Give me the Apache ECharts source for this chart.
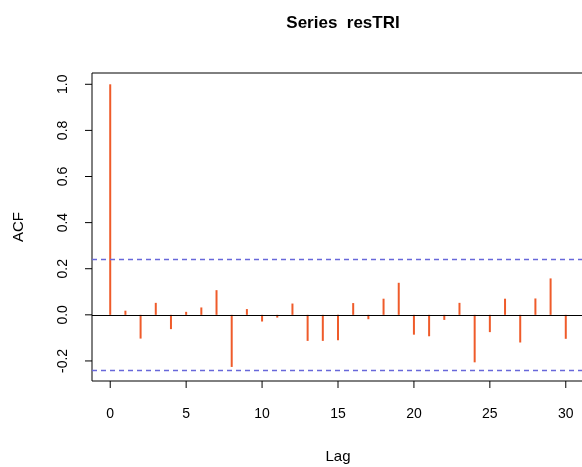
<!DOCTYPE html>
<html><head><meta charset="utf-8">
<script src="https://cdn.jsdelivr.net/npm/echarts@6/dist/echarts.min.js"></script>
<style>html,body{margin:0;padding:0;background:#fff}#c{width:582px;height:467px}</style>
</head><body><div id="c"></div>
<script>
const lags = [0,1,2,3,4,5,6,7,8,9,10,11,12,13,14,15,16,17,18,19,20,21,22,23,24,25,26,27,28,29,30];
const acfValues = [1.0,0.018,-0.103,0.052,-0.062,0.013,0.032,0.107,-0.226,0.025,-0.029,-0.012,0.049,-0.113,-0.113,-0.110,0.051,-0.019,0.070,0.139,-0.086,-0.093,-0.022,0.052,-0.206,-0.075,0.070,-0.120,0.071,0.158,-0.104];
const ciBound = 0.2377;
const xTicks = [0,5,10,15,20,25,30];
const yTicks = [-0.2,0.0,0.2,0.4,0.6,0.8,1.0];
const xMin = -1.2, xMax = 31.2, yMin = -0.287, yMax = 1.049;

const chart = echarts.init(document.getElementById('c'));
const font = 'Liberation Sans, Arial, sans-serif';

function tickItem(isX){
  return function(params, api){
    const v = api.value(0);
    if (isX){
      const p = api.coord([v, yMin]);
      return {type:'line', shape:{x1:p[0], y1:p[1], x2:p[0], y2:p[1]+7},
        style:{stroke:'#000', lineWidth:1}};
    } else {
      const p = api.coord([xMin, v]);
      return {type:'line', shape:{x1:p[0], y1:p[1], x2:p[0]-7, y2:p[1]},
        style:{stroke:'#000', lineWidth:1}};
    }
  };
}

chart.setOption({
  animation:false,
  backgroundColor:'#fff',
  title:{text:'Series  resTRI', left:338, top:10, textAlign:'center',
    textStyle:{fontFamily:font,fontSize:17,fontWeight:'bold',color:'#000'}},
  grid:{left:92, top:73, right:-2, bottom:86, outerBoundsMode:'none', containLabel:false,
    show:true, borderColor:'#000', borderWidth:1, backgroundColor:'transparent'},
  xAxis:{type:'value', min:xMin, max:xMax,
    name:'Lag', nameLocation:'middle', nameGap:68,
    nameTextStyle:{fontFamily:font,fontSize:15,color:'#000'},
    axisLine:{show:false, onZero:false}, splitLine:{show:false},
    axisTick:{show:false},
    axisLabel:{customValues:xTicks, fontFamily:font, fontSize:14, color:'#000', margin:26, formatter:v=>String(v)}},
  yAxis:{type:'value', min:yMin, max:yMax,
    name:'ACF', nameLocation:'middle', nameGap:66,
    nameTextStyle:{fontFamily:font,fontSize:15,color:'#000'},
    axisLine:{show:false, onZero:false}, splitLine:{show:false},
    axisTick:{show:false},
    axisLabel:{customValues:yTicks, rotate:90, fontFamily:font, fontSize:14, color:'#000', margin:22,
      formatter:v=>v.toFixed(1)}},
  series:[
    {
      type:'bar', barWidth:2, barGap:'-100%',
      data:lags.map((l,i)=>[l,acfValues[i]]),
      itemStyle:{color:'#EF5B2A'},
      markLine:{silent:true, symbol:'none', label:{show:false},
        data:[
          {yAxis:0, lineStyle:{color:'#000', type:'solid', width:1}},
          {yAxis:ciBound, lineStyle:{color:'#6868DA', type:[5,4], width:1.3}},
          {yAxis:-ciBound, lineStyle:{color:'#6868DA', type:[5,4], width:1.3}}
        ]}
    },
    {type:'custom', silent:true, clip:false, renderItem:tickItem(true),
      data:xTicks.map(v=>[v]), encode:{x:0}},
    {type:'custom', silent:true, clip:false, renderItem:tickItem(false),
      data:yTicks.map(v=>[v]), encode:{y:0}}
  ]
});
</script></body></html>
